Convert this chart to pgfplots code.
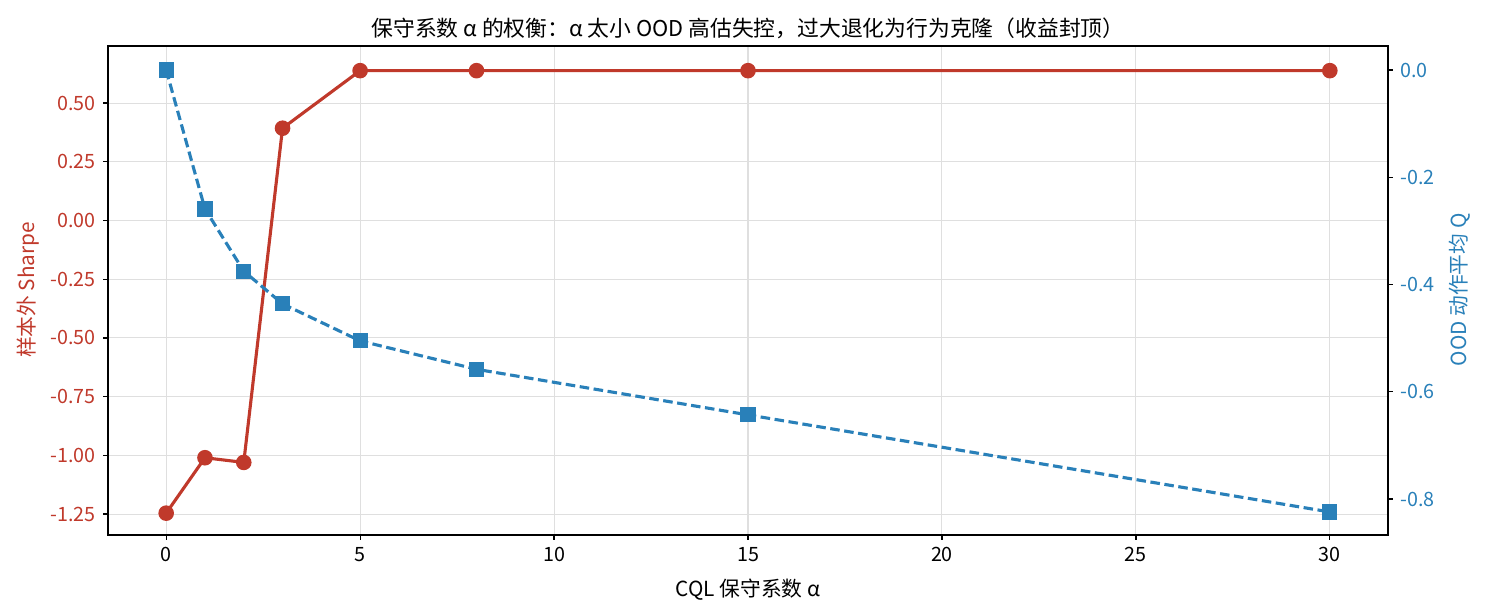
\documentclass[border=0pt]{standalone}
\usepackage{fontspec}
\setmainfont{Noto Sans CJK SC}
\usepackage{pgfplots}
\pgfplotsset{compat=1.18}
\definecolor{cred}{HTML}{C0392B}
\definecolor{cblue}{HTML}{2980B9}
\begin{document}
\begin{tikzpicture}
\useasboundingbox (0,0) rectangle (9.9in,4.1in);
\pgfplotsset{
  base/.style={
    at={(0.72in,0.5333in)}, anchor=south west,
    scale only axis, width=8.5333in, height=3.26in,
    xmin=-1.5, xmax=31.5,
    /pgf/number format/assume math mode=true,
    tick label style={font=\fontsize{9.5}{11}\selectfont},
    axis line style={line width=0.8pt},
    tick style={line width=0.6pt, black},
    major tick length=2.4pt,
  }
}
\begin{axis}[base,
  ymin=-1.339, ymax=0.743,
  xtick={0,5,10,15,20,25,30},
  ytick={-1.25,-1,-0.75,-0.5,-0.25,0,0.25,0.5},
  yticklabel style={color=cred, /pgf/number format/.cd, fixed, fixed zerofill, precision=2},
  xticklabel style={/pgf/number format/.cd, fixed},
  tick align=outside,
  xtick pos=bottom, ytick pos=left,
  grid=major, grid style={gray!25, line width=0.5pt},
]
\addplot[cred, line width=1.5pt, mark=*, mark size=3pt] coordinates {
  (0,-1.246) (1,-1.010) (2,-1.030) (3,0.393) (5,0.638) (8,0.638) (15,0.638) (30,0.638)
};
\end{axis}
\begin{axis}[base,
  ymin=-0.867, ymax=0.0448,
  axis x line=none,
  axis y line*=right,
  ytick={-0.8,-0.6,-0.4,-0.2,0},
  yticklabel style={color=cblue, /pgf/number format/.cd, fixed, fixed zerofill, precision=1},
  tick align=outside,
]
\addplot[cblue, line width=1.5pt, dash pattern=on 4.6pt off 2.2pt, mark=square*, mark size=2.9pt, mark options={solid}] coordinates {
  (0,0.0) (1,-0.259) (2,-0.375) (3,-0.436) (5,-0.505) (8,-0.558) (15,-0.643) (30,-0.824)
};
\end{axis}
\node[font=\fontsize{10.5}{12}\selectfont, anchor=center] at (4.9867in,3.913in) {保守系数 α 的权衡：α 太小 OOD 高估失控，过大退化为行为克隆（收益封顶）};
\node[font=\fontsize{10}{12}\selectfont, anchor=center] at (4.9867in,0.1667in) {CQL 保守系数 α};
\node[font=\fontsize{10}{12}\selectfont, color=cred, rotate=90, anchor=center] at (0.1867in,2.1667in) {样本外 Sharpe};
\node[font=\fontsize{10}{12}\selectfont, color=cblue, rotate=90, anchor=center] at (9.733in,2.1667in) {OOD 动作平均 Q};
\end{tikzpicture}
\end{document}
